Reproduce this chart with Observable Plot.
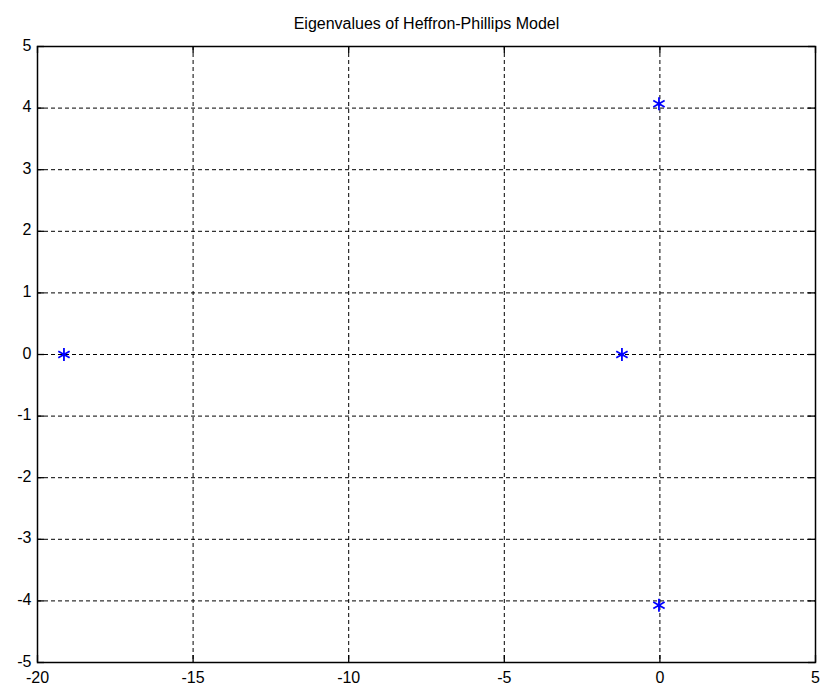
<!DOCTYPE html>
<html>
<head>
<meta charset="utf-8">
<script src="https://cdn.jsdelivr.net/npm/d3@7"></script>
<script src="https://cdn.jsdelivr.net/npm/@observablehq/plot@0.6"></script>
<style>
  html, body { margin: 0; padding: 0; background: #fff; }
  #chart { width: 820px; height: 696px; }
</style>
</head>
<body>
<div id="chart"></div>
<script>
const title = "Eigenvalues of Heffron-Phillips Model";
const realParts = [-19.15, -1.22, -0.03, -0.03];
const imagParts = [0, 0, 4.07, -4.07];
const xTicks = [-20, -15, -10, -5, 0, 5];
const yTicks = [-5, -4, -3, -2, -1, 0, 1, 2, 3, 4, 5];

const eig = realParts.map((re, i) => ({re, im: imagParts[i]}));
const font = "'Liberation Sans', Arial, sans-serif";

const W = 820, H = 696, mL = 37, mR = 5, mT = 46, mB = 34;
const plotW = W - mL - mR, plotH = H - mT - mB, tick = 7;

const chart = Plot.plot({
  width: W,
  height: H,
  marginLeft: mL,
  marginRight: mR,
  marginTop: mT,
  marginBottom: mB,
  style: {fontFamily: font, fontSize: "16px", color: "#000", background: "#fff"},
  x: {domain: [-20, 5], axis: null},
  y: {domain: [-5, 5], axis: null},
  marks: [
    Plot.gridX(xTicks, {stroke: "#000", strokeOpacity: 1, strokeDasharray: "4,3", strokeWidth: 1}),
    Plot.gridY(yTicks, {stroke: "#000", strokeOpacity: 1, strokeDasharray: "4,3", strokeWidth: 1}),
    Plot.tickX(xTicks, {x: d => d, insetTop: plotH - tick, stroke: "#000", strokeWidth: 1.3}),
    Plot.tickX(xTicks, {x: d => d, insetBottom: plotH - tick, stroke: "#000", strokeWidth: 1.3}),
    Plot.tickY(yTicks, {y: d => d, insetRight: plotW - tick, stroke: "#000", strokeWidth: 1.3}),
    Plot.tickY(yTicks, {y: d => d, insetLeft: plotW - tick, stroke: "#000", strokeWidth: 1.3}),
    Plot.text(xTicks, {x: d => d, frameAnchor: "bottom", dy: 20, text: d => String(d), fontSize: 16, fill: "#000"}),
    Plot.text(yTicks, {y: d => d, frameAnchor: "left", dx: -6, dy: -1, textAnchor: "end", text: d => String(d), fontSize: 16, fill: "#000"}),
    Plot.frame({stroke: "#000", strokeWidth: 1.5}),
    Plot.dot(eig, {x: "re", y: "im", symbol: "asterisk", r: 6.2, stroke: "#0000ff", strokeWidth: 1.8}),
    Plot.text([title], {frameAnchor: "top", dy: -29, fontSize: 16, fill: "#000"})
  ]
});
document.getElementById("chart").appendChild(chart);
</script>
</body>
</html>
